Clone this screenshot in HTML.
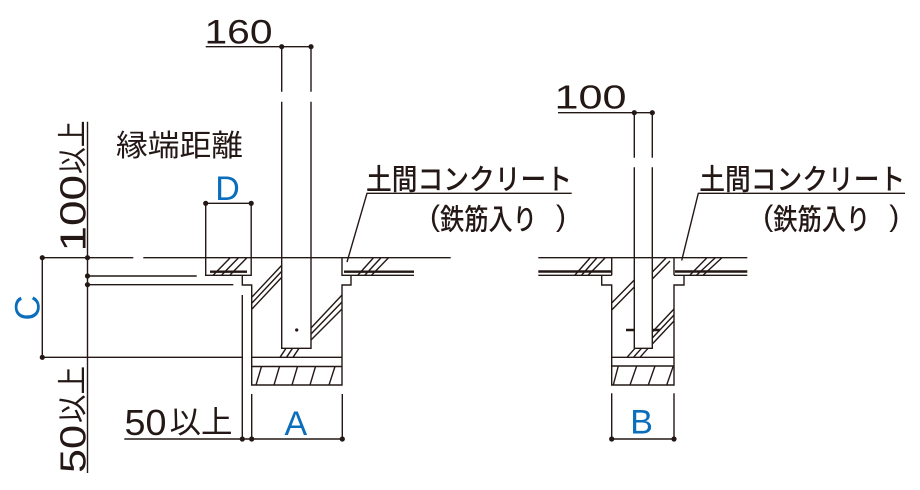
<!DOCTYPE html>
<html><head><meta charset="utf-8"><style>
html,body{margin:0;padding:0;background:#fff;}
svg{display:block;}
text{font-family:"Liberation Sans","Noto Sans CJK JP",sans-serif;fill:#231815;}
.b{fill:#0a6ebd;}
.j{font-family:"Noto Sans CJK JP","Liberation Sans",sans-serif;}
</style></head><body>
<svg width="920" height="490" viewBox="0 0 920 490" xmlns="http://www.w3.org/2000/svg">
<g stroke="#231815" stroke-width="1.4" fill="none" stroke-linecap="butt">
<path d="M205.7 46.7H311"/>
<path d="M281.7 46.7V91.7M311 46.7V91.7M281.7 101.7V348.3H311V101.7"/>
<path d="M42.3 257.7H133.3M143.3 257.7H450.7"/>
<path d="M87.5 121.7V473"/>
<path d="M42.3 257.7V357.3"/>
<path d="M87.5 276H196.7M87.5 284.7H233.3M42.3 357.3H242.3"/>
<path d="M205.7 203.3H251.2M205.7 203.3V275.3H251.2V203.3"/>
<path d="M210 271.7H247" stroke-width="2.4"/>
<path d="M242.3 275.3V285H251.7V385H342V285H351V275.3"/>
<path d="M342 257.7V275.3H414"/>
<path d="M344 271.7H414" stroke-width="2.4"/>
<path d="M251.7 357.3H342M251.7 366.5H342"/>
<path d="M256 385L261.5 366.5M274 385L279.5 366.5M292 385L297.5 366.5M310 385L315.5 366.5M329 385L335 366.5"/>
<path d="M213.3 275L230 258M221.7 275L238.3 258M230 275L246.7 258"/>
<path d="M358 275L373.3 258M365 275L380.7 258M371.7 275L388.3 258"/>
<path d="M252 297L282 265M252 303L282 271M252 309L282 277"/>
<path d="M311 328L342 295M311 334L342 302M311 340L342 309"/>
<path d="M280 357.3L286 348.3M286.5 357.3L292.5 348.3M293 357.3L299 348.3"/>
<path d="M242.3 295V440"/>
<path d="M251.7 394V439M342.3 394V439M124.3 439H342.3"/>
<path d="M347 262L367 193.3H571.7"/>

<path d="M558 112.7H652.3"/>
<path d="M634.3 112.7V157.7M652.3 112.7V157.7M634.3 167.3V348.3H652.3V167.3"/>
<path d="M538.3 257.7H747.3"/>
<path d="M538.3 275.3H611.7M674 275.3H747.3"/>
<path d="M538.3 271.5H611M675 271.5H747.3" stroke-width="2.4"/>
<path d="M611.7 257.7V275.3M601.7 275.3V285H611.7V385H674V285H684V275.3M674 257.7V275.3"/>
<path d="M611.7 357.3H674M611.7 366H674"/>
<path d="M613.3 385L618.3 366M630 385L636.7 366M648.3 385L655 366M666.7 385L673.3 366"/>
<path d="M611.7 393.3V439M674 393.3V439M611.7 439H674"/>
<path d="M681.7 260.5L698.3 193.3H905"/>
<path d="M575 275L590 258M581.7 275L596.7 258M588.3 275L605 258"/>
<path d="M690 275L706.7 258M696.7 275L715 258M703.3 275L721.7 258"/>
<path d="M611.7 303L634.3 280M611.7 310L634.3 287"/>
<path d="M652.3 272L666 258M652.3 279L670 261"/>
<path d="M652.3 332L674 309M652.3 338L674 315M652.3 344L674 321"/>
<path d="M627 357.3L635 348.3M633.5 357.3L641.5 348.3M640 357.3L648 348.3"/>
<path d="M626 330H634.3M652.3 330H660" stroke-width="2.6"/>
</g>
<g fill="#231815">
<circle cx="281.7" cy="46.7" r="2.6"/><circle cx="311" cy="46.7" r="2.6"/>
<circle cx="205.7" cy="203.3" r="2.6"/><circle cx="251.2" cy="203.3" r="2.6"/>
<circle cx="42.3" cy="257.7" r="2.6"/><circle cx="87.5" cy="257.7" r="2.6"/>
<circle cx="87.5" cy="276" r="2.6"/><circle cx="87.5" cy="284.7" r="2.6"/>
<circle cx="42.3" cy="357.3" r="2.6"/>
<circle cx="242.3" cy="439" r="2.6"/><circle cx="251.7" cy="439" r="2.6"/><circle cx="342.3" cy="439" r="2.6"/>
<circle cx="634.3" cy="112.7" r="2.6"/><circle cx="652.3" cy="112.7" r="2.6"/>
<circle cx="611.7" cy="439" r="2.6"/><circle cx="674" cy="439" r="2.6"/>
<circle cx="296.7" cy="330" r="1.6"/>
</g>

<text x="204.5" y="43.3" font-size="34" textLength="68" lengthAdjust="spacingAndGlyphs">160</text>
<text x="554.5" y="108.5" font-size="33" textLength="72" lengthAdjust="spacingAndGlyphs">100</text>

<text class="j" x="116" y="156" font-size="30" textLength="127" lengthAdjust="spacingAndGlyphs">縁端距離</text>

<text class="b" x="215.3" y="200" font-size="34">D</text>
<text class="b" x="284.5" y="435" font-size="34">A</text>
<text class="b" x="630.3" y="433.5" font-size="34">B</text>
<text class="b" transform="translate(39.5 320.5) rotate(-90)" font-size="35">C</text>

<text x="124.5" y="435" font-size="36" textLength="42" lengthAdjust="spacingAndGlyphs">50</text>
<text class="j" x="169.5" y="433" font-size="31" textLength="63" lengthAdjust="spacingAndGlyphs">以上</text>

<text transform="translate(85.5 251.5) rotate(-90)" font-size="36" textLength="76.5" lengthAdjust="spacingAndGlyphs">100</text>
<text class="j" transform="translate(83 174) rotate(-90)" font-size="30" textLength="53.5" lengthAdjust="spacingAndGlyphs">以上</text>

<text transform="translate(85.5 473) rotate(-90)" font-size="36" textLength="48" lengthAdjust="spacingAndGlyphs">50</text>
<text class="j" transform="translate(83 423) rotate(-90)" font-size="30" textLength="57" lengthAdjust="spacingAndGlyphs">以上</text>

<text class="j" x="366" y="189.5" font-size="29" font-weight="500" textLength="206" lengthAdjust="spacingAndGlyphs">土間コンクリート</text>
<text x="430" y="226" font-size="30">(</text>
<text class="j" x="440" y="229.5" font-size="29" font-weight="500" textLength="97" lengthAdjust="spacingAndGlyphs">鉄筋入り</text>
<text x="556" y="226" font-size="30">)</text>

<text class="j" x="699.3" y="189.5" font-size="29" font-weight="500" textLength="206" lengthAdjust="spacingAndGlyphs">土間コンクリート</text>
<text x="763.3" y="226" font-size="30">(</text>
<text class="j" x="773.3" y="229.5" font-size="29" font-weight="500" textLength="97" lengthAdjust="spacingAndGlyphs">鉄筋入り</text>
<text x="889.3" y="226" font-size="30">)</text>
</svg>
</body></html>
